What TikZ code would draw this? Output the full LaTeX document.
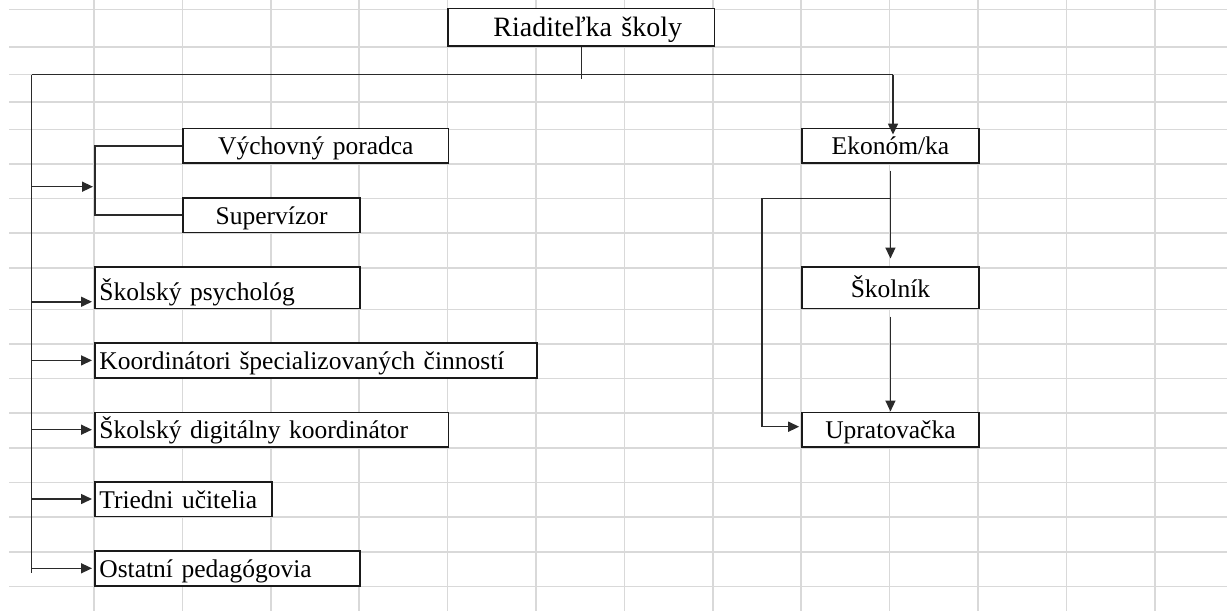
\documentclass[tikz,border=0pt]{standalone}
\usepackage{fontspec}
\setmainfont{Liberation Serif}
\usetikzlibrary{arrows.meta}
\definecolor{gridgray}{HTML}{D9D9D9}
\definecolor{boxline}{HTML}{1A1A1A}
\definecolor{wireline}{HTML}{2A2A2A}
\newcommand\cellfont{\fontsize{25.5}{30}\selectfont}
\newcommand\headfont{\fontsize{28}{32}\selectfont}
\tikzstyle{gridline}=[draw=gridgray,line width=1.6pt]
\tikzstyle{cell}=[rectangle,draw=boxline,fill=white,line width=1.7pt,inner xsep=4.5pt,inner ysep=0pt,text depth=8.3pt,text height=26.4pt,anchor=south west,font=\cellfont]
\tikzstyle{wire}=[draw=wireline,line width=1.5pt]
\tikzstyle{feed}=[wire,-{Triangle[length=11pt,width=10pt]},shorten >=2pt]

\begin{document}
\begin{tikzpicture}[x=1pt, y=-1pt]
    \useasboundingbox (0,0) rectangle (1227,611);
    % sheet grid
    \foreach \i in {0,...,12} {
        \draw[gridline] ({94+88.4*\i},0) -- ({94+88.4*\i},611);
    };
    \foreach \y in {9.3,46.7,74.5,101.7,129.3,163.95,198.6,233.25,267.9,309.3,343.95,378.6,413.25,447.9,482.55,517.2,551.85,586.5} {
        \draw[gridline] (9,\y) -- (1227,\y);
    };
    % boxes
    \node[cell,font=\headfont,text width=257.3pt,align=center,text depth=9pt,text height=28.4pt] (riaditelka) at (447.3,46.7) {\hspace*{13pt}Riaditeľka školy};
    \node[cell,text width=256.2pt,align=center] (vychovny) at (182.4,163.95) {Výchovný poradca};
    \node[cell,text width=167.8pt,align=center] (supervizor) at (182.4,233.25) {Supervízor};
    \node[cell,text width=256.2pt,align=left,text height=33.1pt] (psycholog) at (94,309.3) {Školský psychológ};
    \node[cell,text width=433pt,align=left] (koordinatori) at (94,378.6) {Koordinátori špecializovaných činností};
    \node[cell,text width=344.6pt,align=left] (digitalny) at (94,447.9) {Školský digitálny koordinátor};
    \node[cell,text width=167.8pt,align=left] (triedni) at (94,517.2) {Triedni učitelia};
    \node[cell,text width=256.2pt,align=left] (ostatni) at (94,586.5) {Ostatní pedagógovia};
    \node[cell,text width=167.8pt,align=center] (ekonom) at (801.2,163.95) {Ekonóm/ka};
    \node[cell,text width=167.8pt,align=center,text depth=11.4pt,text height=30pt] (skolnik) at (801.2,309.3) {Školník};
    \node[cell,text width=167.8pt,align=center] (upratovacka) at (801.2,447.9) {Upratovačka};
    % main branches
    \coordinate (trunk top) at (31.6,74.5);
    \coordinate (trunk bottom) at (31.6,573);
    \coordinate (econ top) at (893,74.5);
    \draw[wire] (riaditelka.south) -- ++(0,32.6);
    \draw[wire] (trunk top) -- (econ top);
    \draw[wire] (trunk top) -- (trunk bottom);
    \draw[feed,shorten >=-7pt] (econ top) -- (econ top |- ekonom.north);
    % left side
    \coordinate (bracket) at (95,186.7);
    \draw[wire] (vychovny.west) -- (vychovny.west -| bracket) -- (supervizor.west -| bracket) -- (supervizor.west);
    \draw[feed] (trunk top |- bracket) -- (bracket);
    \coordinate (psy) at ([yshift=-14pt]psycholog.west);
    \draw[feed] (trunk top |- psy) -- (psy);
    \foreach \n in {koordinatori,digitalny,triedni,ostatni} {
        \draw[feed] (trunk top |- \n.west) -- (\n.west);
    };
    % right side
    \coordinate (fork) at (889.6,198.3);
    \coordinate (side) at (762,198.3);
    \coordinate (side low) at (762,426.7);
    \draw[feed,shorten <=6.7pt,shorten >=7.7pt] (ekonom.south) -- (skolnik.north);
    \draw[feed] (fork) -- (side) -- (side low) -- (upratovacka.west |- side low);
    \draw[feed,shorten <=7.4pt,shorten >=0pt] (skolnik.south) -- (upratovacka.north);
\end{tikzpicture}
\end{document}
